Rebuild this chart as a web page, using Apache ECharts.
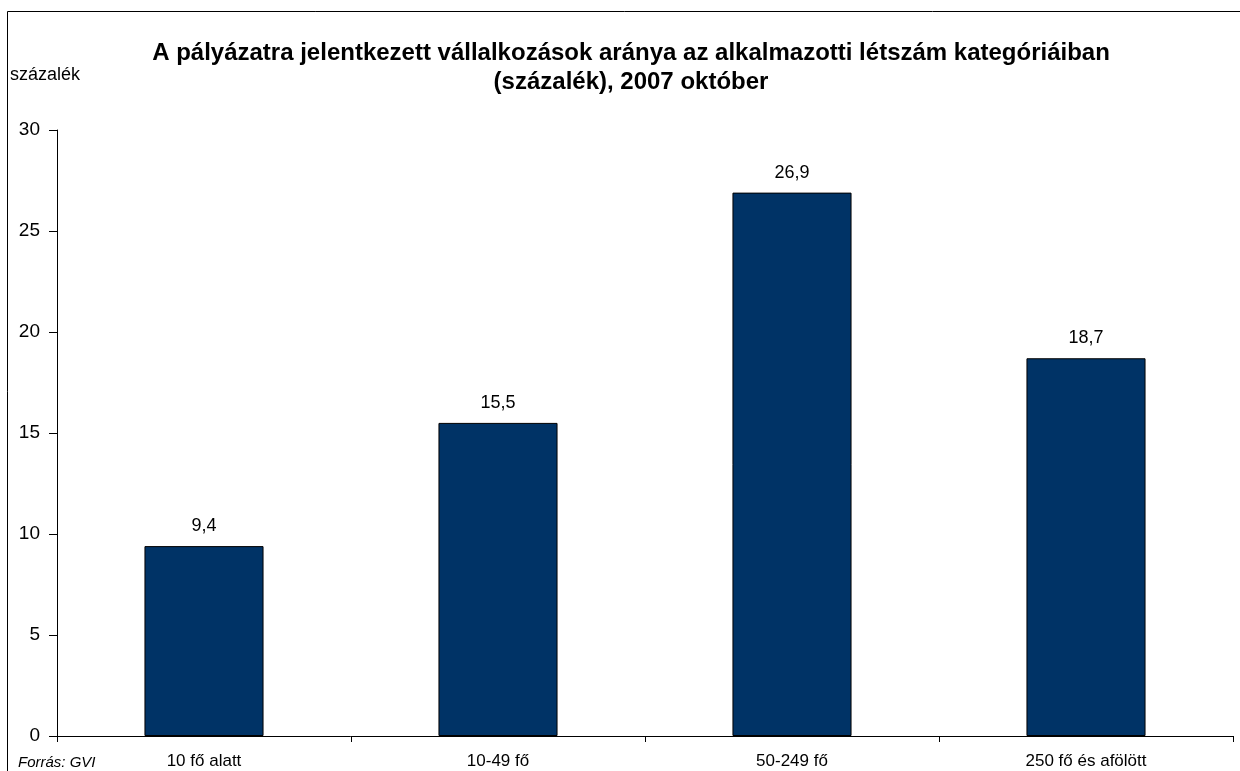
<!DOCTYPE html>
<html>
<head>
<meta charset="utf-8">
<script src="https://cdn.jsdelivr.net/npm/echarts@6/dist/echarts.min.js"></script>
<style>
  html, body { margin: 0; padding: 0; background: #fff; }
  #chart { width: 1240px; height: 771px; }
</style>
</head>
<body>
<div id="chart"></div>
<script>
const categories = ["10 fő alatt", "10-49 fő", "50-249 fő", "250 fő és afölött"];
const values = [9.4, 15.5, 26.9, 18.7];
const yTicks = { min: 0, max: 30, interval: 5 };

const font = "'Liberation Sans', Arial, sans-serif";

const chart = echarts.init(document.getElementById("chart"));
chart.setOption({
  animation: false,
  textStyle: { fontFamily: font },
  title: {
    text: "A pályázatra jelentkezett vállalkozások aránya az alkalmazotti létszám kategóriáiban\n(százalék), 2007 október",
    left: 626,
    top: 34,
    textAlign: "center",
    textStyle: { fontSize: 24, fontWeight: "bold", color: "#000", lineHeight: 29, fontFamily: font },
  },
  graphic: [
    {
      type: "rect",
      shape: { x: 7.5, y: 11.5, width: 1300, height: 900 },
      style: { fill: null, stroke: "#000", lineWidth: 1 },
      silent: true,
    },
    {
      type: "text",
      left: 10,
      top: 66,
      style: { text: "százalék", font: "18px " + font, fill: "#000" },
    },
    {
      type: "text",
      left: 18,
      top: 755,
      style: { text: "Forrás: GVI", font: "italic 15px " + font, fill: "#000" },
    },
  ],
  grid: { left: 57, right: 7, top: 130, bottom: 35 },
  xAxis: {
    type: "category",
    data: categories,
    axisLine: { lineStyle: { color: "#000", width: 1 } },
    axisTick: { show: true, alignWithLabel: false, length: 6, lineStyle: { color: "#000" } },
    axisLabel: { color: "#000", fontSize: 17, margin: 17, fontFamily: font },
  },
  yAxis: {
    type: "value",
    min: yTicks.min,
    max: yTicks.max,
    interval: yTicks.interval,
    splitLine: { show: false },
    axisLine: { show: true, lineStyle: { color: "#000", width: 1 } },
    axisTick: { show: true, length: 8, lineStyle: { color: "#000" } },
    axisLabel: { color: "#000", fontSize: 19, margin: 17, fontFamily: font },
  },
  series: [
    {
      type: "bar",
      data: values,
      barWidth: "40.5%",
      itemStyle: { color: "#003366", borderColor: "#000", borderWidth: 1 },
      label: {
        show: true,
        position: "top",
        distance: 11,
        color: "#000",
        fontSize: 18,
        fontFamily: font,
        formatter: (p) => String(p.value).replace(".", ","),
      },
    },
  ],
});
</script>
</body>
</html>
